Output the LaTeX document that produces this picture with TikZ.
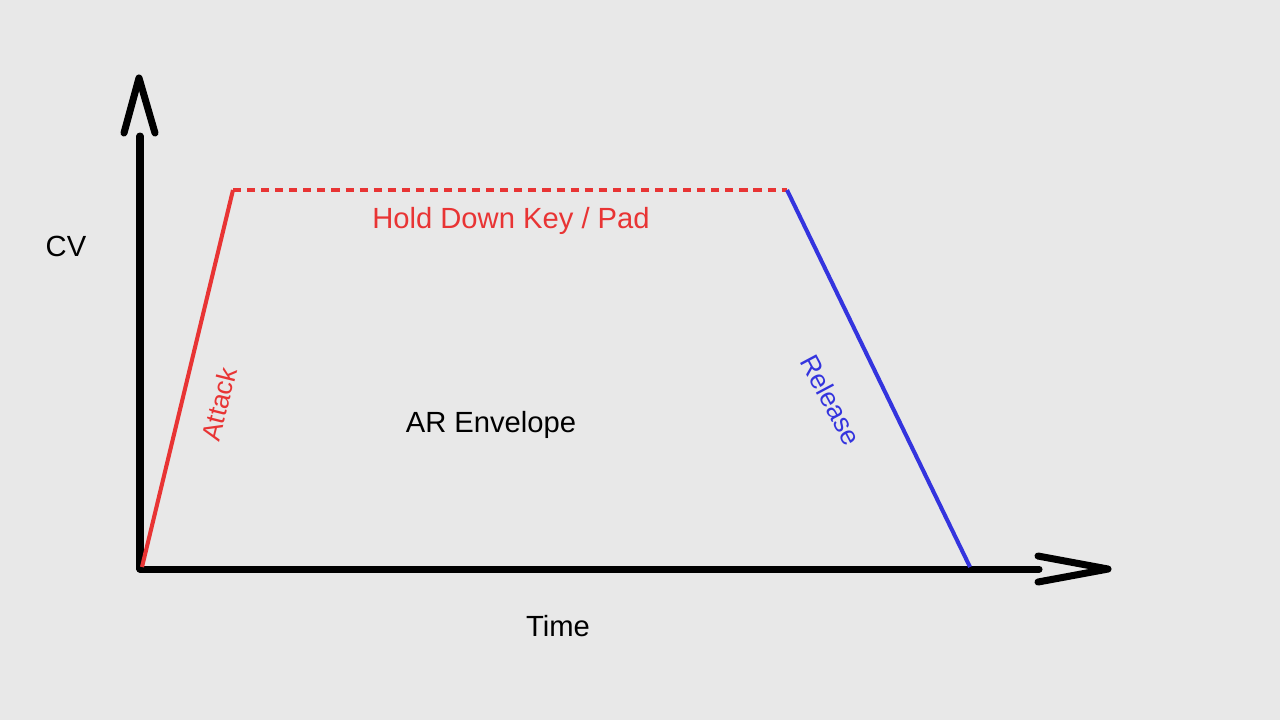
\documentclass[tikz,border=0pt]{standalone}
\usepackage{fontspec}
\setmainfont{Liberation Sans}
\definecolor{paper}{RGB}{232,232,232}
\definecolor{attackred}{RGB}{232,52,52}
\definecolor{releaseblue}{RGB}{52,52,222}
\tikzset{
	axis/.style={line width=2pt,line cap=round,line join=round},
	envline/.style={line width=1.15pt},
	lbl/.style={font=\fontsize{8.3}{10}\selectfont,inner sep=0pt},
	slantlbl/.style={font=\fontsize{7.6}{9}\selectfont,inner sep=0pt}
}
\begin{document}
\begin{tikzpicture}[x=0.01cm,y=-0.01cm]
	\fill[paper] (0,0) rectangle (1280,720);	%background
	\useasboundingbox (0,0) rectangle (1280,720);
	
	%AXES
	\coordinate (o) at (140,569);
	\coordinate (ytop) at (140,136);
	\coordinate (xend) at (1039,569);
	\draw[axis] (o)--(ytop);
	\draw[axis] (o)--(xend);
	\draw[axis] (124,133)--(139,78)--(155,133);	%upward head
	\draw[axis] (1038,556)--(1108,569)--(1038,582);	%rightward head
	
	%ENVELOPE
	\coordinate (peak) at (233,190);
	\coordinate (let) at (787,190);
	\coordinate (end) at (970,567);
	\draw[envline,attackred] (142,567)--(peak);
	\draw[envline,attackred,dash pattern=on 2.3pt off 1.7pt] (peak)--(let);
	\draw[envline,releaseblue] (let)--(end);
	
	%LABELS
	\node[lbl] (cv) at (66,246) {CV};
	\node[lbl] (time) at (558,626) {Time};
	\node[lbl,attackred] (hold) at (511,221) {Hold Down Key / Pad};
	\node[lbl] (title) at (491,425) {AR Envelope};
	\node[slantlbl,attackred,rotate=76] (attack) at (219,404) {Attack};
	\node[slantlbl,releaseblue,rotate=-62] (release) at (831,400) {Release};
	%\draw[help lines,step=100] (0,0) grid (1280,720);
\end{tikzpicture}
\end{document}
